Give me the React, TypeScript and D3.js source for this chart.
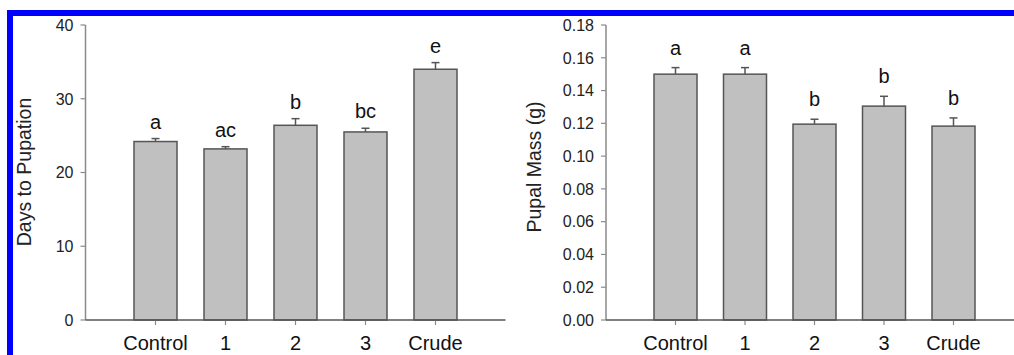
import React from "react";
import * as d3 from "d3";

const categories = ["Control", "1", "2", "3", "Crude"];

const daysMean = [24.2, 23.2, 26.4, 25.5, 34.0];
const daysErr = [0.4, 0.3, 0.9, 0.5, 0.9];
const daysLetters = ["a", "ac", "b", "bc", "e"];
const daysTicks = [0, 10, 20, 30, 40];

const massMean = [0.15, 0.15, 0.1195, 0.1305, 0.1183];
const massErr = [0.004, 0.004, 0.003, 0.006, 0.005];
const massLetters = ["a", "a", "b", "b", "b"];
const massTicks = [0, 0.02, 0.04, 0.06, 0.08, 0.1, 0.12, 0.14, 0.16, 0.18];

const FONT = "'Liberation Sans', Arial, Helvetica, sans-serif";

type PanelProps = {
  means: number[];
  errs: number[];
  letters: string[];
  ticks: number[];
  fmt: (v: number) => string;
  yMax: number;
  yLabel: string;
  axisX: number;
  plotW: number;
  labelX: number;
  labelY: number;
  letterGap: number;
};

function Panel(p: PanelProps) {
  const top = 25;
  const bottom = 320;
  const y = d3.scaleLinear().domain([0, p.yMax]).range([bottom, top]);
  const x = d3
    .scaleLinear()
    .domain([-1, categories.length])
    .range([p.axisX, p.axisX + p.plotW]);
  const bw = 43;

  return (
    <g fontFamily={FONT}>
      {/* y axis */}
      <line x1={p.axisX} x2={p.axisX} y1={top} y2={bottom} stroke="#8a8a8a" strokeWidth={1.5} />
      {p.ticks.map((t) => (
        <g key={t}>
          <line x1={p.axisX - 5} x2={p.axisX} y1={y(t)} y2={y(t)} stroke="#8a8a8a" strokeWidth={1.2} />
          <text
            x={p.axisX - 12}
            y={y(t)}
            dy="0.36em"
            textAnchor="end"
            fontSize={16}
            fill="#222"
          >
            {p.fmt(t)}
          </text>
        </g>
      ))}
      <text
        transform={`translate(${p.labelX},${p.labelY}) rotate(-90)`}
        textAnchor="middle"
        dy="0.35em"
        fontSize={19.5}
        fill="#222"
      >
        {p.yLabel}
      </text>

      {/* bars, error bars, letters */}
      {categories.map((c, i) => {
        const cx = x(i);
        const capY = y(p.means[i] + p.errs[i]);
        return (
          <g key={c}>
            <rect
              x={cx - bw / 2}
              y={y(p.means[i])}
              width={bw}
              height={bottom - y(p.means[i])}
              fill="#c0c0c0"
              stroke="#555"
              strokeWidth={1.5}
            />
            <line x1={cx} x2={cx} y1={y(p.means[i])} y2={capY} stroke="#555" strokeWidth={1.5} />
            <line x1={cx - 4} x2={cx + 4} y1={capY} y2={capY} stroke="#555" strokeWidth={1.5} />
            <text
              x={cx}
              y={capY - p.letterGap}
              textAnchor="middle"
              fontSize={20}
              fill="#111"
            >
              {p.letters[i]}
            </text>
            <line x1={cx} x2={cx} y1={bottom} y2={bottom + 5} stroke="#8a8a8a" strokeWidth={1.2} />
            <text x={cx} y={350} textAnchor="middle" fontSize={20} fill="#111">
              {c}
            </text>
          </g>
        );
      })}

      {/* x axis */}
      <line x1={p.axisX} x2={p.axisX + p.plotW} y1={bottom} y2={bottom} stroke="#555" strokeWidth={1.5} />
    </g>
  );
}

export default function App() {
  const width = 1014;
  const height = 355;
  return (
    <div style={{ position: "absolute", left: 0, top: 0 }}>
      <svg width={width} height={height} style={{ display: "block", background: "#fff" }}>
        <Panel
          means={daysMean}
          errs={daysErr}
          letters={daysLetters}
          ticks={daysTicks}
          fmt={d3.format("d")}
          yMax={40}
          yLabel="Days to Pupation"
          axisX={85.5}
          plotW={420}
          labelX={24}
          labelY={172}
          letterGap={10}
        />
        <Panel
          means={massMean}
          errs={massErr}
          letters={massLetters}
          ticks={massTicks}
          fmt={d3.format(".2f")}
          yMax={0.18}
          yLabel="Pupal Mass (g)"
          axisX={606}
          plotW={417}
          labelX={534}
          labelY={167}
          letterGap={13}
        />
        {/* blue frame, cut by the picture edges like the reference */}
        <rect x={10} y={13} width={1100} height={400} fill="none" stroke="#0000ff" strokeWidth={6} />
      </svg>
    </div>
  );
}
